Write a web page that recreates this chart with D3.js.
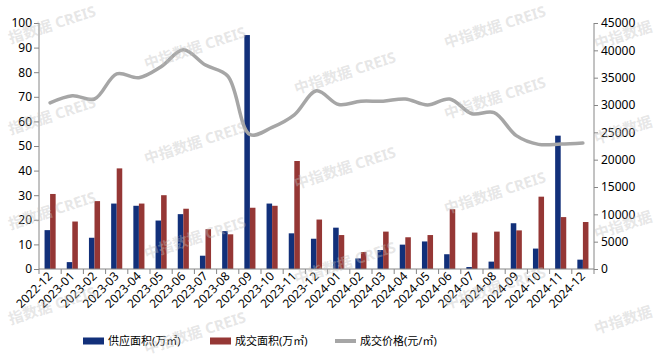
<!doctype html>
<html>

<head>
	<meta charset="utf-8">
	<style>
		body { margin: 0; background: #fff; }
		svg text { font-family: "Noto Sans", "Noto Sans CJK SC", sans-serif; }
	</style>
</head>

<body>
	<div class="figure"></div>

	<script src="https://d3js.org/d3.v7.min.js"></script>
	<script>
		// данные графика
		let months = ["2022-12", "2023-01", "2023-02", "2023-03", "2023-04", "2023-05", "2023-06", "2023-07",
			"2023-08", "2023-09", "2023-10", "2023-11", "2023-12", "2024-01", "2024-02", "2024-03", "2024-04",
			"2024-05", "2024-06", "2024-07", "2024-08", "2024-09", "2024-10", "2024-11", "2024-12"];
		let supply = [15.8, 2.8, 12.7, 26.6, 25.7, 19.7, 22.3, 5.4, 15.4, 95.1, 26.6, 14.5, 12.3,
			16.8, 4.3, 7.7, 9.9, 11.2, 6.0, 0.8, 3.0, 18.6, 8.3, 54.2, 3.8];
		let sales = [30.5, 19.3, 27.6, 40.9, 26.6, 30.0, 24.5, 16.2, 14.1, 24.9, 25.7, 43.9, 20.1,
			13.8, 6.9, 15.2, 12.9, 13.8, 24.3, 14.8, 15.2, 15.7, 29.4, 21.1, 19.1];
		let price = [30400, 31700, 31100, 35700, 35000, 37000, 40100, 37300, 35300, 24600, 25900, 28200, 32600,
			30100, 30700, 30700, 31100, 30000, 31100, 28400, 28600, 24400, 22800, 22850, 23050];
		let leftTicks = d3.range(0, 101, 10);
		let rightTicks = d3.range(0, 45001, 5000);
		let seriesNames = ["供应面积(万㎡)", "成交面积(万㎡)", "成交价格(元/㎡)"];
		let colors = ["#12307a", "#953735", "#a6a6a6"];

		let W = 657, H = 359;
		let plotL = 39, plotR = 594, plotT = 23, plotB = 269;

		let svg = d3.select(".figure")
			.append("svg")
			.attr("width", W)
			.attr("height", H)
			.style("background-color", "white");

		let x0 = d3.scaleBand().domain(months).range([plotL, plotR]).paddingInner(0.5).paddingOuter(0.25);
		let x1 = d3.scaleBand().domain([0, 1]).range([0, x0.bandwidth()]);
		let yL = d3.scaleLinear().domain([0, 100]).range([plotB, plotT]);
		let yR = d3.scaleLinear().domain([0, 45000]).range([plotB, plotT]);

		// столбцы
		let groups = svg.append("g").selectAll("g").data(months).join("g")
			.attr("transform", d => `translate(${x0(d)},0)`);
		groups.append("rect")
			.attr("x", x1(0)).attr("width", x1.bandwidth())
			.attr("y", (d, i) => yL(supply[i])).attr("height", (d, i) => yL(0) - yL(supply[i]))
			.attr("fill", colors[0]);
		groups.append("rect")
			.attr("x", x1(1)).attr("width", x1.bandwidth())
			.attr("y", (d, i) => yL(sales[i])).attr("height", (d, i) => yL(0) - yL(sales[i]))
			.attr("fill", colors[1]);

		// линия цены
		let line = d3.line()
			.x((d, i) => x0(months[i]) + x0.bandwidth() / 2)
			.y(d => yR(d))
			.curve(d3.curveCatmullRom.alpha(0.5));
		svg.append("path")
			.datum(price)
			.attr("d", line)
			.attr("fill", "none")
			.attr("stroke", colors[2])
			.attr("stroke-width", 3.5)
			.attr("stroke-linecap", "round");

		// оси
		let axisColor = "#868686";
		let gL = svg.append("g").attr("transform", `translate(${plotL},0)`)
			.call(d3.axisLeft(yL).tickValues(leftTicks).tickSize(5).tickPadding(2));
		let gR = svg.append("g").attr("transform", `translate(${plotR},0)`)
			.call(d3.axisRight(yR).tickValues(rightTicks).tickFormat(d3.format("d")).tickSize(4).tickPadding(3));
		[gL, gR].forEach(g => {
			g.selectAll("path, line").attr("stroke", axisColor);
			g.select(".domain").attr("d", `M0,${plotB}V${plotT}`);
			g.selectAll("text").attr("font-size", 12).attr("fill", "#000");
		});

		let gX = svg.append("g").attr("transform", `translate(0,${plotB})`)
			.call(d3.axisBottom(x0).tickSize(0).tickPadding(0));
		gX.select(".domain").attr("d", `M${plotL},0H${plotR}`).attr("stroke", axisColor);
		gX.selectAll("text")
			.attr("font-size", 12).attr("fill", "#000")
			.attr("text-anchor", "end")
			.attr("dy", 0)
			.attr("transform", "translate(3,8) rotate(-45)");
		let half = (x0.step() - x0.bandwidth()) / 2;
		gX.selectAll(".bound").data(months.concat(["end"])).join("line")
			.attr("class", "bound")
			.attr("x1", (d, i) => i < months.length ? x0(d) - half : plotR)
			.attr("x2", (d, i) => i < months.length ? x0(d) - half : plotR)
			.attr("y1", 0).attr("y2", 5)
			.attr("stroke", axisColor);

		// легенда
		let legX = [83, 210, 335];
		let leg = svg.append("g").selectAll("g").data(seriesNames).join("g")
			.attr("transform", (d, i) => `translate(${legX[i]},341)`);
		leg.append("rect")
			.attr("x", 0).attr("y", (d, i) => i < 2 ? -3.5 : -2)
			.attr("width", 21).attr("height", (d, i) => i < 2 ? 7 : 4)
			.attr("fill", (d, i) => colors[i]);
		leg.append("text")
			.attr("x", 25).attr("y", 4)
			.attr("font-size", 11).attr("fill", "#000")
			.text(d => d);

		// водяные знаки
		let wm = svg.append("g").attr("pointer-events", "none");
		let probe = wm.append("text").attr("font-size", 15).attr("font-weight", "bold").text("中指数据 CREIS");
		let hw = probe.node().getComputedTextLength() / 2;
		probe.remove();
		for (let c = 0; c < 5; c++) {
			for (let r = -1; r < 4; r++) {
				let cx = 45 + 150 * c;
				let cy = ((23 + 25 * c) % 95) + 95 * r;
				if (cy < 0 || cy > 350) continue;
				cy = Math.min(Math.max(cy, 27), 344);
				let txt = "中指数据 CREIS", anchor = "middle", tx = 0;
				if (c === 0) { txt = "指数据 CREIS"; anchor = "end"; tx = hw; }
				if (c === 4) { txt = "中指数据"; anchor = "start"; tx = -hw; }
				wm.append("text")
					.attr("transform", `translate(${cx},${cy}) rotate(-18)`)
					.attr("x", tx)
					.attr("text-anchor", anchor)
					.attr("dy", "0.35em")
					.attr("font-size", 15)
					.attr("font-weight", "bold")
					.attr("fill", "#bfbfbf")
					.attr("fill-opacity", 0.4)
					.text(txt);
			}
		}
	</script>

</body>

</html>
